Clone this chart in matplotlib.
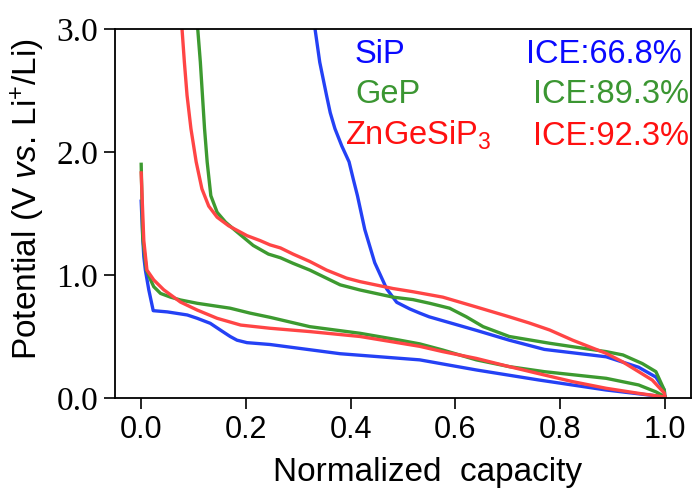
"""Normalized charge/discharge profiles of SiP, GeP and ZnGeSiP3."""

import matplotlib

matplotlib.use("Agg")
import matplotlib.pyplot as plt

plt.rcParams["mathtext.fontset"] = "custom"
plt.rcParams["mathtext.rm"] = "Liberation Sans"
plt.rcParams["mathtext.it"] = "Liberation Sans:italic"

# first discharge (lithiation), capacity normalized to 1
sip_dis_x = [0.0, 0.003, 0.005, 0.008, 0.0145, 0.023, 0.05, 0.088, 0.107, 0.132, 0.151, 0.17, 0.183, 0.202, 0.246, 0.38, 0.532, 0.64, 0.76, 0.888, 0.97, 1.0]
sip_dis_y = [1.60, 1.30, 1.15, 1.04, 0.88, 0.71, 0.70, 0.675, 0.648, 0.607, 0.553, 0.50, 0.47, 0.45, 0.435, 0.36, 0.31, 0.228, 0.146, 0.065, 0.024, 0.01]
gep_dis_x = [0.0, 0.003, 0.01, 0.018, 0.024, 0.037, 0.056, 0.075, 0.107, 0.17, 0.208, 0.246, 0.322, 0.418, 0.494, 0.532, 0.576, 0.64, 0.703, 0.77, 0.888, 0.95, 0.983, 1.0]
gep_dis_y = [1.90, 1.30, 1.04, 0.96, 0.905, 0.85, 0.82, 0.797, 0.77, 0.73, 0.69, 0.656, 0.58, 0.526, 0.47, 0.44, 0.39, 0.31, 0.255, 0.214, 0.16, 0.106, 0.05, 0.01]
zn_dis_x = [0.0, 0.005, 0.011, 0.024, 0.043, 0.075, 0.107, 0.145, 0.19, 0.246, 0.322, 0.418, 0.532, 0.576, 0.64, 0.703, 0.77, 0.824, 0.888, 0.95, 1.0]
zn_dis_y = [1.83, 1.28, 1.04, 0.96, 0.88, 0.78, 0.715, 0.648, 0.593, 0.567, 0.54, 0.50, 0.42, 0.377, 0.322, 0.255, 0.187, 0.133, 0.079, 0.038, 0.008]

# first charge (delithiation), running back from 1 to 1 - ICE
sip_chg_x = [1.0, 0.999, 0.983, 0.95, 0.888, 0.77, 0.703, 0.64, 0.55, 0.532, 0.513, 0.488, 0.469, 0.446, 0.427, 0.413, 0.405, 0.397, 0.383, 0.370, 0.361, 0.354, 0.341, 0.332]
sip_chg_y = [0.01, 0.065, 0.17, 0.25, 0.335, 0.395, 0.47, 0.55, 0.66, 0.69, 0.724, 0.778, 0.886, 1.10, 1.37, 1.645, 1.78, 1.92, 2.05, 2.19, 2.32, 2.46, 2.73, 3.0]
gep_chg_x = [1.0, 0.999, 0.983, 0.957, 0.92, 0.888, 0.824, 0.78, 0.703, 0.678, 0.653, 0.621, 0.589, 0.551, 0.519, 0.481, 0.418, 0.38, 0.322, 0.29, 0.266, 0.243, 0.214, 0.183, 0.161, 0.145, 0.133, 0.126, 0.121, 0.117, 0.113, 0.108]
gep_chg_y = [0.01, 0.065, 0.214, 0.28, 0.35, 0.377, 0.417, 0.445, 0.50, 0.54, 0.58, 0.66, 0.73, 0.77, 0.80, 0.82, 0.878, 0.92, 1.04, 1.095, 1.14, 1.17, 1.24, 1.35, 1.43, 1.51, 1.645, 1.92, 2.19, 2.46, 2.73, 3.0]
zn_chg_x = [1.0, 0.999, 0.976, 0.95, 0.919, 0.888, 0.824, 0.78, 0.741, 0.703, 0.64, 0.576, 0.519, 0.481, 0.418, 0.392, 0.354, 0.322, 0.29, 0.266, 0.246, 0.227, 0.202, 0.167, 0.145, 0.129, 0.116, 0.105, 0.095, 0.0876, 0.0825, 0.078]
zn_chg_y = [0.008, 0.04, 0.146, 0.214, 0.295, 0.363, 0.47, 0.553, 0.61, 0.66, 0.74, 0.82, 0.864, 0.89, 0.946, 0.975, 1.04, 1.11, 1.17, 1.22, 1.245, 1.28, 1.32, 1.40, 1.47, 1.56, 1.70, 1.92, 2.19, 2.46, 2.73, 3.0]

names = ["SiP", "GeP", "ZnGeSiP$_3$"]
ice = ["ICE:66.8%", "ICE:89.3%", "ICE:92.3%"]
line_colors = ["#2441f5", "#3d9a30", "#ff4545"]
text_colors = ["#0a0aff", "#3b9632", "#ff1010"]

fig = plt.figure(figsize=(6.94, 4.88), dpi=100)
ax = fig.add_axes([115 / 694, 1 - 398 / 488, 576 / 694, 369 / 488])

curves = [
    (sip_dis_x, sip_dis_y, sip_chg_x, sip_chg_y),
    (gep_dis_x, gep_dis_y, gep_chg_x, gep_chg_y),
    (zn_dis_x, zn_dis_y, zn_chg_x, zn_chg_y),
]
for (dx, dy, cx, cy), color in zip(curves, line_colors):
    ax.plot(dx, dy, color=color, lw=2.4, solid_joinstyle="round")
    ax.plot(cx, cy, color=color, lw=2.4, solid_joinstyle="round")

ax.set_xlim(-0.05, 1.05)
ax.set_ylim(0.0, 3.0)
ax.set_xticks([0.0, 0.2, 0.4, 0.6, 0.8, 1.0])
ax.set_yticks([0.0, 1.0, 2.0, 3.0])
ax.set_xticklabels([f"{v:.1f}" for v in ax.get_xticks()], family="Liberation Sans", fontsize=22)
ax.set_yticklabels([f"{v:.1f}" for v in ax.get_yticks()], family="Liberation Serif", fontsize=24)
ax.tick_params(direction="out", length=8, width=1.2, pad=4)
for spine in ax.spines.values():
    spine.set_linewidth(1.3)

ax.set_xlabel("Normalized  capacity", family="Liberation Sans", fontsize=24)
ax.xaxis.set_label_coords(0.5425, -0.16)
ax.set_ylabel("Potential (V $\\it{vs.}\\,$Li$^{+}$/Li)", family="Liberation Sans", fontsize=24)
ax.yaxis.set_label_coords(-0.118, 0.54)

ys = [0.907, 0.799, 0.686]
xs_name = [0.4167, 0.4167, 0.399]
xs_ice = [0.984, 0.9957, 0.9957]
for name, label, color, y, xn, xi in zip(names, ice, text_colors, ys, xs_name, xs_ice):
    ax.text(xn, y, name, transform=ax.transAxes, color=color, fontsize=23.5,
            family="Liberation Sans", va="baseline", ha="left")
    ax.text(xi, y, label, transform=ax.transAxes, color=color, fontsize=23.5,
            family="Liberation Sans", va="baseline", ha="right")

fig.savefig("out.png", dpi=100)
